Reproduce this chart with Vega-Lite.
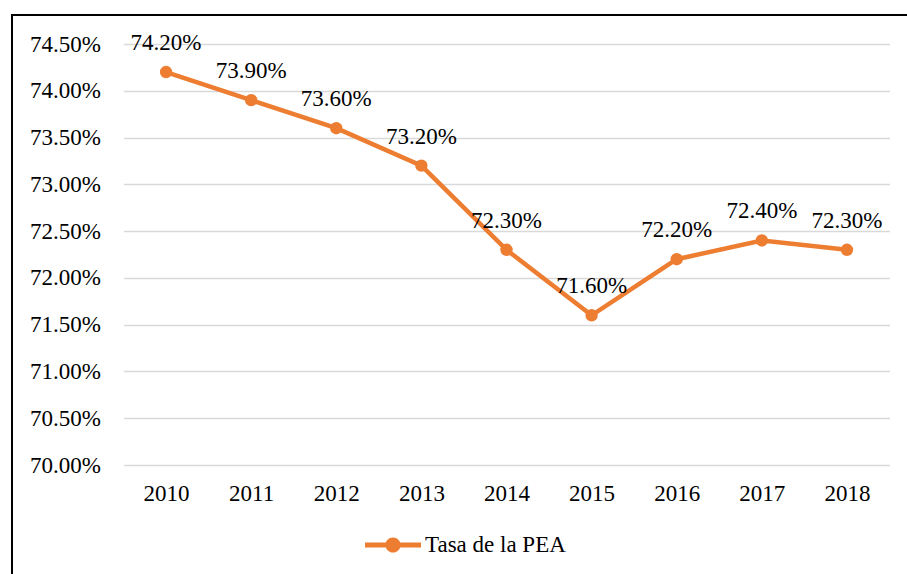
{
  "$schema": "https://vega.github.io/schema/vega-lite/v6.json",
  "width": 900,
  "height": 565,
  "autosize": "none",
  "padding": {"left": 12, "top": 15, "right": 0, "bottom": 0},
  "background": "white",
  "config": {
    "font": "Times New Roman, Liberation Serif, serif",
    "axis": {"labelFont": "Times New Roman, Liberation Serif, serif"},
    "legend": {"labelFont": "Times New Roman, Liberation Serif, serif"},
    "text": {"font": "Times New Roman, Liberation Serif, serif"},
    "view": {"stroke": "#000000", "strokeWidth": 2}
  },
  "data": {
    "values": [
      {"year": "2010", "tasa": 0.742, "serie": "Tasa de la PEA"},
      {"year": "2011", "tasa": 0.739, "serie": "Tasa de la PEA"},
      {"year": "2012", "tasa": 0.736, "serie": "Tasa de la PEA"},
      {"year": "2013", "tasa": 0.732, "serie": "Tasa de la PEA"},
      {"year": "2014", "tasa": 0.723, "serie": "Tasa de la PEA"},
      {"year": "2015", "tasa": 0.716, "serie": "Tasa de la PEA"},
      {"year": "2016", "tasa": 0.722, "serie": "Tasa de la PEA"},
      {"year": "2017", "tasa": 0.724, "serie": "Tasa de la PEA"},
      {"year": "2018", "tasa": 0.723, "serie": "Tasa de la PEA"}
    ]
  },
  "encoding": {
    "x": {
      "field": "year",
      "type": "ordinal",
      "scale": {"type": "point", "range": [111.5, 877.5], "padding": 0.5},
      "axis": {
        "title": null,
        "orient": "bottom",
        "offset": -115,
        "domain": false,
        "ticks": false,
        "grid": false,
        "labelAngle": 0,
        "labelFontSize": 23,
        "labelColor": "#000000",
        "labelPadding": 17
      }
    },
    "y": {
      "field": "tasa",
      "type": "quantitative",
      "scale": {"domain": [0.70, 0.745], "range": [450, 29], "nice": false, "zero": false},
      "axis": {
        "title": null,
        "offset": -111.5,
        "values": [0.70, 0.705, 0.71, 0.715, 0.72, 0.725, 0.73, 0.735, 0.74, 0.745],
        "format": ".2%",
        "domain": false,
        "ticks": false,
        "grid": true,
        "gridColor": "#D9D9D9",
        "gridWidth": 1.5,
        "labelFontSize": 23,
        "labelColor": "#000000",
        "labelPadding": 23
      }
    }
  },
  "layer": [
    {
      "mark": {"type": "line", "strokeWidth": 4.5},
      "encoding": {
        "color": {
          "field": "serie",
          "type": "nominal",
          "scale": {"range": ["#ED7D31"]},
          "legend": {
            "title": null,
            "orient": "none",
            "legendX": 353,
            "legendY": 502,
            "padding": 0,
            "symbolType": "M-1,-0.09H1V0.09H-1Z M-0.27,0A0.27,0.27 0 1,1 0.27,0A0.27,0.27 0 1,1 -0.27,0Z",
            "symbolSize": 3136,
            "labelFontSize": 23,
            "labelColor": "#000000",
            "labelOffset": 4,
            "encode": {
              "symbols": {
                "update": {
                  "fill": {"value": "#ED7D31"},
                  "stroke": {"value": "transparent"},
                  "strokeWidth": {"value": 0},
                  "opacity": {"value": 1}
                }
              }
            }
          }
        }
      }
    },
    {
      "mark": {"type": "point", "filled": true, "size": 154, "opacity": 1, "color": "#ED7D31"}
    },
    {
      "mark": {"type": "text", "dy": -22, "fontSize": 23, "baseline": "alphabetic", "align": "center", "color": "#000000"},
      "encoding": {
        "text": {"field": "tasa", "type": "quantitative", "format": ".2%"}
      }
    }
  ]
}
